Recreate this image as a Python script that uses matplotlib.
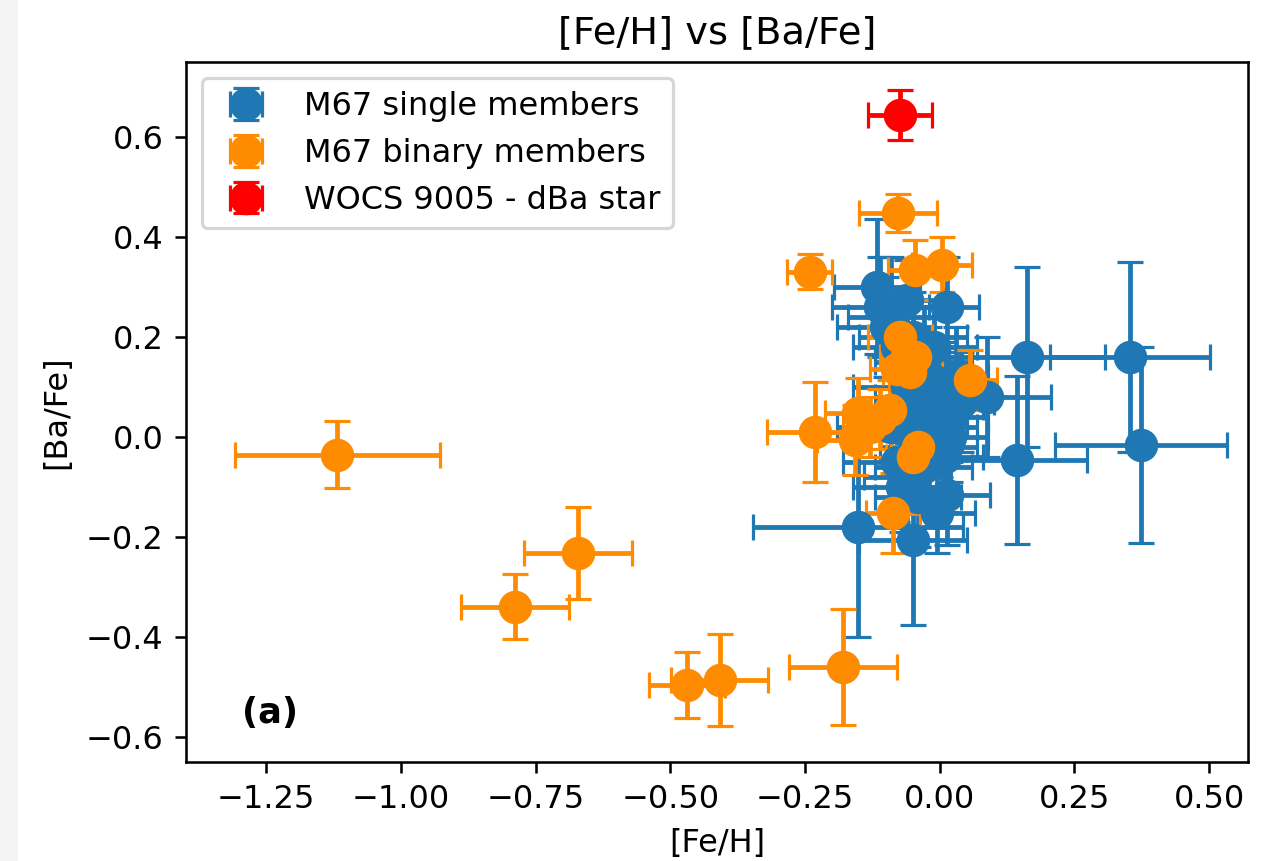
import matplotlib
matplotlib.use("Agg")
import matplotlib.pyplot as plt
from matplotlib.patches import Rectangle

# M67 single members: [Fe/H], [Ba/Fe], errors
single_feh = [0.353, 0.373, 0.162, 0.143, 0.087, -0.152, -0.050, 0.014, -0.005,
              -0.117, 0.013, -0.061, -0.090,
              -0.100, -0.080, -0.050, -0.030, -0.020, -0.060, -0.040, -0.010, 0.010,
              0.020, -0.070, -0.090, -0.050, -0.020, 0.000, -0.080, -0.060, -0.030,
              0.010, -0.040, -0.070, 0.030, -0.010, -0.110, 0.020, -0.030, 0.040]
single_bafe = [0.160, -0.016, 0.160, -0.046, 0.080, -0.180, -0.206, -0.116, -0.152,
               0.300, 0.260, 0.274, 0.240,
               0.220, 0.180, 0.200, 0.150, 0.120, 0.100, 0.080, 0.060, 0.090,
               0.040, 0.050, 0.020, 0.000, -0.020, 0.020, -0.050, -0.080, -0.060,
               -0.040, -0.120, -0.100, 0.120, 0.180, 0.260, 0.000, 0.030, 0.070]
single_xerr = [0.148, 0.160, 0.145, 0.130, 0.120, 0.195, 0.100, 0.080, 0.070,
               0.080, 0.060, 0.070, 0.080,
               0.090, 0.080, 0.100, 0.090, 0.070, 0.100, 0.080, 0.090, 0.080,
               0.070, 0.090, 0.100, 0.080, 0.090, 0.070, 0.100, 0.080, 0.090,
               0.070, 0.080, 0.090, 0.060, 0.080, 0.090, 0.070, 0.080, 0.060]
single_yerr = [0.190, 0.196, 0.180, 0.168, 0.120, 0.220, 0.170, 0.100, 0.080,
               0.135, 0.100, 0.080, 0.120,
               0.100, 0.120, 0.090, 0.110, 0.100, 0.120, 0.090, 0.110, 0.100,
               0.090, 0.120, 0.100, 0.110, 0.090, 0.100, 0.120, 0.100, 0.090,
               0.110, 0.100, 0.090, 0.100, 0.080, 0.100, 0.090, 0.110, 0.100]

# M67 binary members
binary_feh = [-1.118, -0.671, -0.788, -0.469, -0.408, -0.180, -0.241, -0.077,
              -0.046, 0.004, -0.231, -0.074, -0.060, -0.080, -0.045, -0.055,
              0.057, -0.152, -0.158, -0.092, -0.130, -0.110, -0.040, -0.050, -0.087]
binary_bafe = [-0.036, -0.232, -0.340, -0.496, -0.486, -0.460, 0.330, 0.448,
               0.334, 0.344, 0.010, 0.200, 0.160, 0.135, 0.160, 0.130,
               0.114, 0.048, -0.006, 0.054, 0.020, 0.035, -0.020, -0.040, -0.152]
binary_xerr = [0.190, 0.100, 0.100, 0.070, 0.090, 0.100, 0.042, 0.072,
               0.050, 0.056, 0.090, 0.060, 0.050, 0.050, 0.050, 0.050,
               0.050, 0.060, 0.070, 0.050, 0.050, 0.050, 0.050, 0.050, 0.050]
binary_yerr = [0.067, 0.092, 0.065, 0.066, 0.092, 0.116, 0.035, 0.038,
               0.060, 0.055, 0.100, 0.060, 0.050, 0.060, 0.050, 0.050,
               0.060, 0.070, 0.070, 0.060, 0.060, 0.060, 0.060, 0.060, 0.080]

# WOCS 9005
dba_feh = [-0.074]
dba_bafe = [0.644]
dba_xerr = [0.060]
dba_yerr = [0.050]

DPI = 230
fig = plt.figure(figsize=(1267 / DPI, 861 / DPI), dpi=DPI)
fig.patches.append(Rectangle((0, 0), 18 / 1267, 1, transform=fig.transFigure,
                             facecolor="#f4f4f4", edgecolor="none", zorder=-10))
ax = fig.add_axes([0.1466, 0.115, 0.8384, 0.813])

ax.errorbar(single_feh, single_bafe, xerr=single_xerr, yerr=single_yerr,
            fmt="o", color="#1f77b4", markersize=9.5, capsize=4,
            label="M67 single members")
ax.errorbar(binary_feh, binary_bafe, xerr=binary_xerr, yerr=binary_yerr,
            fmt="o", color="darkorange", markersize=9.5, capsize=4,
            label="M67 binary members")
ax.errorbar(dba_feh, dba_bafe, xerr=dba_xerr, yerr=dba_yerr,
            fmt="o", color="red", markersize=9.5, capsize=4,
            label="WOCS 9005 - dBa star")

ax.set_xlim(-1.399, 0.572)
ax.set_ylim(-0.65, 0.75)
ax.set_xticks([-1.25, -1.0, -0.75, -0.5, -0.25, 0.0, 0.25, 0.5])
ax.set_yticks([-0.6, -0.4, -0.2, 0.0, 0.2, 0.4, 0.6])
ax.set_xlabel("[Fe/H]")
ax.set_ylabel("[Ba/Fe]")
ax.set_title("[Fe/H] vs [Ba/Fe]")
ax.text(0.053, 0.045, "(a)", transform=ax.transAxes, fontsize=11,
        fontweight="bold", ha="left", va="bottom")
ax.legend(loc="upper left")

fig.savefig("out.png", dpi=DPI)
